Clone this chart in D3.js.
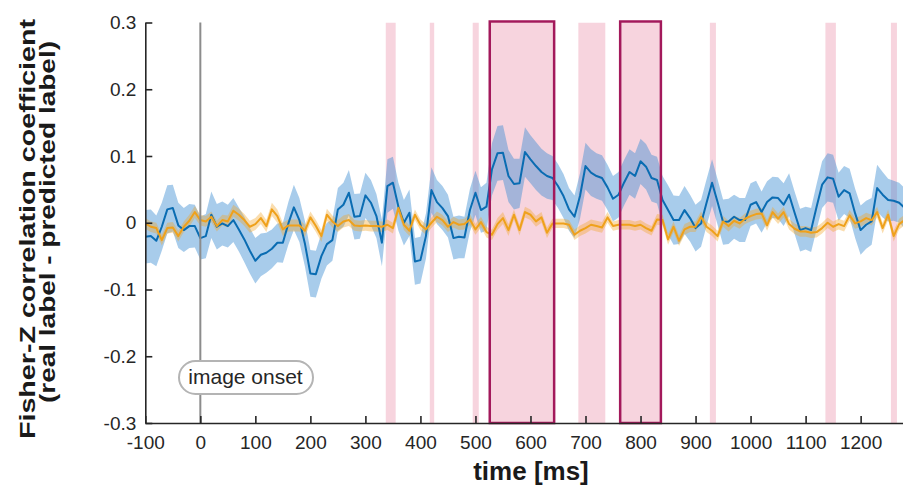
<!DOCTYPE html>
<html lang="en">
<head>
    <meta charset="UTF-8">
    <title>Fisher-Z correlation over time</title>
    <script src="https://d3js.org/d3.v7.min.js"></script>
    <style>
        body { margin: 0; background: #fff; }
        svg { display: block; font-family: "Liberation Sans", Arial, Helvetica, sans-serif; }
    </style>
</head>
<body>
    <svg width="903" height="494"></svg>

    <script>
        // time axis: one sample every 10 ms from -100 to 1280 ms
        const times = d3.range(-100, 1281, 10);

        // blue series: mean and half band width
        const blueMean = [
            -0.021, -0.020, -0.027, -0.006, 0.020, 0.022, -0.004, -0.011, -0.005, -0.005,
            -0.023, -0.020, 0.012, -0.006, -0.001, -0.005, 0.004, -0.010, -0.025, -0.042,
            -0.057, -0.048, -0.045, -0.039, -0.030, -0.030, -0.001, 0.023, 0.004, -0.031,
            -0.076, -0.077, -0.050, -0.032, -0.026, 0.020, 0.027, 0.045, 0.009, 0.010,
            0.041, 0.030, 0.010, -0.030, 0.055, 0.060, 0.024, 0.000, 0.015, -0.058,
            -0.056, -0.020, 0.049, 0.031, 0.022, 0.010, -0.023, -0.021, -0.022, 0.019,
            0.045, 0.019, 0.024, 0.080, 0.104, 0.105, 0.070, 0.058, 0.059, 0.106,
            0.095, 0.085, 0.076, 0.070, 0.067, 0.055, 0.040, 0.020, 0.009, 0.040,
            0.085, 0.075, 0.070, 0.067, 0.053, 0.036, 0.042, 0.060, 0.076, 0.070,
            0.092, 0.084, 0.067, 0.064, 0.034, 0.019, 0.004, 0.004, 0.019, 0.007,
            -0.008, -0.001, 0.030, 0.060, 0.031, 0.001, 0.002, 0.009, 0.004, 0.004,
            0.027, 0.031, 0.016, 0.031, 0.038, 0.037, 0.027, 0.042, 0.015, -0.011,
            -0.008, -0.011, 0.024, 0.057, 0.068, 0.066, 0.039, 0.049, 0.044, 0.014,
            -0.011, -0.003, 0.002, 0.052, 0.042, 0.034, 0.033, 0.030, 0.022
        ];
        const blueErr = [
            0.040, 0.040, 0.038, 0.036, 0.036, 0.035, 0.034, 0.033, 0.033, 0.032,
            0.032, 0.033, 0.035, 0.034, 0.033, 0.032, 0.033, 0.033, 0.034, 0.034,
            0.034, 0.032, 0.030, 0.029, 0.029, 0.030, 0.032, 0.034, 0.033, 0.034,
            0.035, 0.035, 0.034, 0.032, 0.031, 0.032, 0.033, 0.034, 0.034, 0.034,
            0.034, 0.034, 0.033, 0.035, 0.040, 0.039, 0.036, 0.034, 0.035, 0.035,
            0.035, 0.034, 0.034, 0.033, 0.033, 0.032, 0.032, 0.032, 0.031, 0.032,
            0.033, 0.034, 0.036, 0.039, 0.041, 0.041, 0.039, 0.038, 0.037, 0.037,
            0.036, 0.036, 0.035, 0.034, 0.033, 0.033, 0.033, 0.032, 0.032, 0.034,
            0.035, 0.035, 0.034, 0.034, 0.034, 0.034, 0.034, 0.034, 0.034, 0.034,
            0.034, 0.034, 0.035, 0.035, 0.036, 0.037, 0.037, 0.036, 0.036, 0.035,
            0.035, 0.035, 0.035, 0.035, 0.034, 0.034, 0.034, 0.033, 0.033, 0.033,
            0.032, 0.032, 0.031, 0.031, 0.031, 0.031, 0.032, 0.032, 0.032, 0.032,
            0.032, 0.033, 0.034, 0.035, 0.036, 0.036, 0.036, 0.036, 0.037, 0.037,
            0.037, 0.036, 0.035, 0.035, 0.034, 0.032, 0.030, 0.030, 0.030
        ];

        // orange series: mean and half band width
        const orangeMean = [
            -0.001, -0.006, -0.008, -0.026, -0.008, -0.007, -0.020, -0.006, 0.003, 0.016,
            0.004, 0.002, 0.009, -0.005, 0.004, 0.002, 0.018, 0.012, 0.004, -0.006,
            -0.002, 0.007, -0.005, 0.020, 0.010, -0.010, -0.004, -0.004, -0.004, -0.012,
            0.008, -0.005, -0.020, 0.012, 0.002, -0.005, 0.002, 0.004, -0.004, -0.005,
            -0.004, -0.005, -0.005, -0.006, -0.003, -0.008, 0.022, -0.003, -0.012, 0.012,
            -0.003, -0.010, 0.000, 0.009, 0.004, -0.006, 0.001, -0.003, -0.002, 0.005,
            -0.010, 0.001, -0.014, -0.018, -0.002, 0.007, -0.011, 0.012, -0.011, 0.016,
            0.012, 0.002, 0.008, -0.015, -0.001, -0.001, -0.001, -0.003, -0.018, -0.012,
            -0.008, -0.003, -0.005, -0.007, 0.008, -0.005, -0.003, -0.003, -0.003, -0.005,
            -0.003, -0.008, -0.012, 0.005, 0.004, -0.025, -0.006, -0.027, -0.010, -0.006,
            -0.006, 0.009, -0.006, -0.012, -0.020, 0.002, -0.005, 0.003, -0.001, 0.006,
            0.010, 0.013, 0.014, -0.004, 0.016, 0.006, 0.016, -0.002, -0.009, -0.013,
            -0.013, -0.015, -0.014, -0.008, 0.000, -0.006, -0.002, -0.005, 0.011, -0.001,
            0.002, 0.007, 0.004, 0.016, -0.008, 0.012, -0.020, -0.002, 0.004
        ];
        const orangeErr = [
            0.008, 0.008, 0.008, 0.008, 0.008, 0.008, 0.008, 0.008, 0.009, 0.009,
            0.008, 0.008, 0.008, 0.008, 0.008, 0.009, 0.009, 0.009, 0.009, 0.009,
            0.009, 0.009, 0.009, 0.010, 0.010, 0.010, 0.009, 0.009, 0.009, 0.009,
            0.009, 0.009, 0.009, 0.009, 0.009, 0.009, 0.009, 0.009, 0.008, 0.008,
            0.008, 0.008, 0.008, 0.008, 0.008, 0.008, 0.008, 0.008, 0.008, 0.008,
            0.008, 0.008, 0.008, 0.008, 0.008, 0.008, 0.008, 0.008, 0.008, 0.008,
            0.008, 0.008, 0.008, 0.008, 0.009, 0.009, 0.009, 0.008, 0.008, 0.008,
            0.008, 0.008, 0.008, 0.008, 0.007, 0.007, 0.007, 0.007, 0.008, 0.008,
            0.008, 0.008, 0.008, 0.008, 0.008, 0.007, 0.007, 0.007, 0.007, 0.007,
            0.007, 0.007, 0.007, 0.008, 0.008, 0.008, 0.008, 0.008, 0.008, 0.008,
            0.008, 0.008, 0.008, 0.008, 0.008, 0.008, 0.008, 0.008, 0.008, 0.008,
            0.008, 0.008, 0.008, 0.008, 0.008, 0.008, 0.008, 0.008, 0.008, 0.008,
            0.008, 0.008, 0.008, 0.008, 0.008, 0.008, 0.008, 0.008, 0.008, 0.008,
            0.008, 0.008, 0.008, 0.008, 0.008, 0.008, 0.008, 0.008, 0.008
        ];

        // significant time windows (ms), two of them outlined
        const sigStart = [337, 417, 495, 526, 687, 763, 926, 1136, 1255];
        const sigEnd   = [355, 425, 506, 643, 736, 837, 937, 1155, 1266];
        const boxStart = [526, 763];
        const boxEnd   = [643, 837];

        const xTicks = d3.range(-100, 1201, 100);
        const yTicks = [-0.3, -0.2, -0.1, 0, 0.1, 0.2, 0.3];

        const svg = d3.select("svg");
        const x = d3.scaleLinear().domain([-100, 1277]).range([145.3, 903]);
        const y = d3.scaleLinear().domain([-0.3, 0.3]).range([423, 22.5]);

        svg.append("defs").append("clipPath").attr("id", "plot")
            .append("rect")
            .attr("x", x(-100)).attr("y", y(0.3))
            .attr("width", x(1277) - x(-100)).attr("height", y(-0.3) - y(0.3));

        const plot = svg.append("g").attr("clip-path", "url(#plot)");

        // pink windows
        plot.selectAll("rect.sig")
            .data(sigStart)
            .enter().append("rect")
            .attr("class", "sig")
            .attr("x", d => x(d))
            .attr("width", (d, i) => x(sigEnd[i]) - x(d))
            .attr("y", y(0.3))
            .attr("height", y(-0.3) - y(0.3))
            .attr("fill", "#f7d4de");

        const rows = times.map((t, i) => ({
            t: t, b: blueMean[i], be: blueErr[i], o: orangeMean[i], oe: orangeErr[i]
        }));

        // shaded bands
        plot.append("path")
            .datum(rows)
            .attr("fill", "#3f8fd2")
            .attr("fill-opacity", 0.45)
            .attr("d", d3.area().x(d => x(d.t)).y0(d => y(d.b - d.be)).y1(d => y(d.b + d.be)));

        plot.append("path")
            .datum(rows)
            .attr("fill", "#f2a52a")
            .attr("fill-opacity", 0.38)
            .attr("d", d3.area().x(d => x(d.t)).y0(d => y(d.o - d.oe)).y1(d => y(d.o + d.oe)));

        // image onset line
        svg.append("line")
            .attr("x1", x(0)).attr("x2", x(0))
            .attr("y1", y(0.3)).attr("y2", y(-0.3))
            .attr("stroke", "#8c8c8c")
            .attr("stroke-width", 2);

        // mean lines
        plot.append("path")
            .datum(rows)
            .attr("fill", "none")
            .attr("stroke", "#0a6cb2")
            .attr("stroke-width", 2)
            .attr("stroke-linejoin", "round")
            .attr("d", d3.line().x(d => x(d.t)).y(d => y(d.b)));

        plot.append("path")
            .datum(rows)
            .attr("fill", "none")
            .attr("stroke", "#efa11b")
            .attr("stroke-width", 2)
            .attr("stroke-linejoin", "round")
            .attr("d", d3.line().x(d => x(d.t)).y(d => y(d.o)));

        // outlined windows
        svg.selectAll("rect.box")
            .data(boxStart)
            .enter().append("rect")
            .attr("class", "box")
            .attr("x", d => x(d))
            .attr("width", (d, i) => x(boxEnd[i]) - x(d))
            .attr("y", y(0.3) - 1)
            .attr("height", y(-0.3) - y(0.3) + 1)
            .attr("fill", "none")
            .attr("stroke", "#a3195b")
            .attr("stroke-width", 2.5);

        // axes (plain hyphen minus, no thousands separator)
        const fmtX = d => String(d);
        const fmtY = d => d === 0 ? "0" : d.toFixed(1);

        const xAxis = svg.append("g")
            .attr("transform", `translate(0,${y(-0.3)})`)
            .call(d3.axisBottom(x).tickValues(xTicks).tickFormat(fmtX).tickSizeInner(-7).tickSizeOuter(0).tickPadding(13));

        const yAxis = svg.append("g")
            .attr("transform", `translate(${x(-100)},0)`)
            .call(d3.axisLeft(y).tickValues(yTicks).tickFormat(fmtY).tickSizeInner(-7).tickSizeOuter(0).tickPadding(9));

        [xAxis, yAxis].forEach(g => {
            g.select(".domain").attr("stroke", "#262626").attr("stroke-width", 1.6);
            g.selectAll(".tick line").attr("stroke", "#262626").attr("stroke-width", 1.6);
            g.selectAll(".tick text")
                .attr("fill", "#262626")
                .style("font-family", "'Liberation Sans', Arial, sans-serif")
                .style("font-size", "19px");
        });

        // image onset label
        const lab = svg.append("g");
        lab.append("rect")
            .attr("x", 179).attr("y", 361)
            .attr("width", 134).attr("height", 33)
            .attr("rx", 16.5)
            .attr("fill", "#fff")
            .attr("stroke", "#b4b4b4")
            .attr("stroke-width", 2);
        lab.append("text")
            .attr("x", 245.5).attr("y", 384)
            .attr("text-anchor", "middle")
            .style("font-size", "21px")
            .attr("fill", "#262626")
            .text("image onset");

        // axis titles
        svg.append("text")
            .attr("x", 531).attr("y", 480)
            .attr("text-anchor", "middle")
            .style("font-size", "26px")
            .style("font-weight", "bold")
            .attr("fill", "#1a1a1a")
            .text("time [ms]");

        svg.append("text")
            .attr("transform", "translate(35,229) rotate(-90)")
            .attr("text-anchor", "middle")
            .attr("textLength", 420)
            .attr("lengthAdjust", "spacingAndGlyphs")
            .style("font-size", "22px")
            .style("font-weight", "bold")
            .attr("fill", "#1a1a1a")
            .text("Fisher-Z correlation coefficient");

        svg.append("text")
            .attr("transform", "translate(55,222) rotate(-90)")
            .attr("text-anchor", "middle")
            .attr("textLength", 362)
            .attr("lengthAdjust", "spacingAndGlyphs")
            .style("font-size", "22px")
            .style("font-weight", "bold")
            .attr("fill", "#1a1a1a")
            .text("(real label - predicted label)");
    </script>
</body>
</html>
